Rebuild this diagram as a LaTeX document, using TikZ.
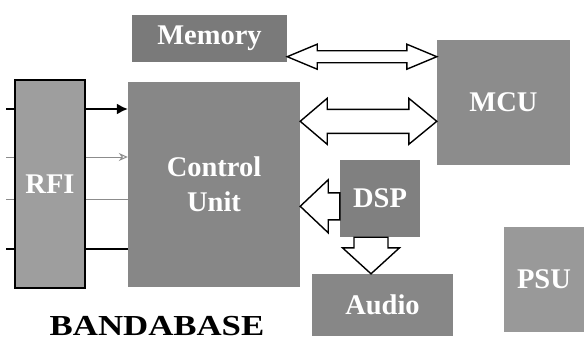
\documentclass[tikz,border=0pt]{standalone}
\usepackage{fontspec}
\usetikzlibrary{calc,arrows.meta}
\newfontfamily\labelfont{Liberation Serif}
\newfontfamily\titlefont[FakeStretch=1.2]{Liberation Serif}
\begin{document}
\begin{tikzpicture}[x=1pt,y=-1pt,
  box/.style={rectangle, inner sep=0pt, fill=#1, text=white, align=center,
    font=\labelfont\fontsize{28.5}{35}\selectfont\bfseries},
  box/.default={black!48},
  blk/.style={draw=black, line width=1.4pt, fill=white, line join=miter},
  sig/.style={line width=1.6pt},
  faint/.style={line width=1pt, draw=black!45}]
\useasboundingbox (0,0) rectangle (584,340);

% blocks
\node[box=black!38, draw=black, line width=1.6pt, minimum width=70, minimum height=208] (rfi) at (50,184) {RFI};
\node[box=black!47, minimum width=172, minimum height=205] (cu) at (214,184) {Control\\Unit};
\node[box=black!52, minimum width=155, minimum height=47] (mem) at (209.5,38.5) {Memory};
\node[box=black!45, minimum width=133, minimum height=125] (mcu) at (503.5,102.5) {MCU};
\node[box=black!50, minimum width=80, minimum height=77] (dsp) at (380,198.5) {DSP};
\node[box=black!47, minimum width=141, minimum height=62] (audio) at (382.5,305) {Audio};
\node[box=black!40, minimum width=80, minimum height=105] (psu) at (544,279.5) {PSU};
\node[font=\titlefont\fontsize{29}{32}\selectfont\bfseries, anchor=base, inner sep=0pt, text depth=0pt] (title) at (157,335) {BANDABASE};

% inputs into the RF interface
\coordinate (i1) at (6,109);
\coordinate (i2) at (6,157);
\coordinate (i3) at (6,199);
\coordinate (i4) at (6,249);
\draw[sig] (i1) -- (i1 -| rfi.west);
\draw[faint] (i2) -- (i2 -| rfi.west);
\draw[faint] (i3) -- (i3 -| rfi.west);
\draw[sig] (i4) -- (i4 -| rfi.west);

% RF interface to control unit
\draw[sig, -{Latex[length=11pt,width=11pt]}] (i1 -| rfi.east) -- (i1 -| cu.west);
\draw[faint, -{Stealth[length=9pt,width=8pt,open]}] (i2 -| rfi.east) -- (i2 -| cu.west);
\draw[faint] (i3 -| rfi.east) -- (i3 -| cu.west);
\draw[sig] (i4 -| rfi.east) -- (i4 -| cu.west);

% Memory <-> MCU
\coordinate (a1) at ($(mem.south east)+(0,-5.5)$);
\coordinate (b1) at (a1 -| mcu.west);
\draw[blk] (a1) -- ($(a1)+(30,-12.5)$) -- ($(a1)+(30,-6)$) -- ($(b1)+(-30,-6)$)
  -- ($(b1)+(-30,-12.5)$) -- (b1) -- ($(b1)+(-30,12.5)$) -- ($(b1)+(-30,6)$)
  -- ($(a1)+(30,6)$) -- ($(a1)+(30,12.5)$) -- cycle;

% Control unit <-> MCU
\coordinate (a2) at ($(cu.north east)+(0,40)$);
\coordinate (b2) at (a2 -| mcu.west);
\draw[blk] (a2) -- ($(a2)+(27,-23)$) -- ($(a2)+(27,-12)$) -- ($(b2)+(-28,-12)$)
  -- ($(b2)+(-28,-23)$) -- (b2) -- ($(b2)+(-28,23)$) -- ($(b2)+(-28,12)$)
  -- ($(a2)+(27,12)$) -- ($(a2)+(27,23)$) -- cycle;

% DSP -> control unit
\coordinate (a3) at ($(cu.north east)+(0,125)$);
\coordinate (b3) at (a3 -| dsp.west);
\draw[blk] (a3) -- ($(a3)+(28,-26.5)$) -- ($(a3)+(28,-13.5)$) -- ($(b3)+(0,-13.5)$)
  -- ($(b3)+(0,13.5)$) -- ($(a3)+(28,13.5)$) -- ($(a3)+(28,26.5)$) -- cycle;

% DSP -> audio
\coordinate (a4) at ($(dsp.south)+(-9,0)$);
\coordinate (b4) at (a4 |- audio.north);
\draw[blk] (b4) -- ($(b4)+(-28.5,-26)$) -- ($(b4)+(-17,-26)$) -- ($(a4)+(-17,0)$)
  -- ($(a4)+(17,0)$) -- ($(b4)+(17,-26)$) -- ($(b4)+(28.5,-26)$) -- cycle;
\end{tikzpicture}
\end{document}
